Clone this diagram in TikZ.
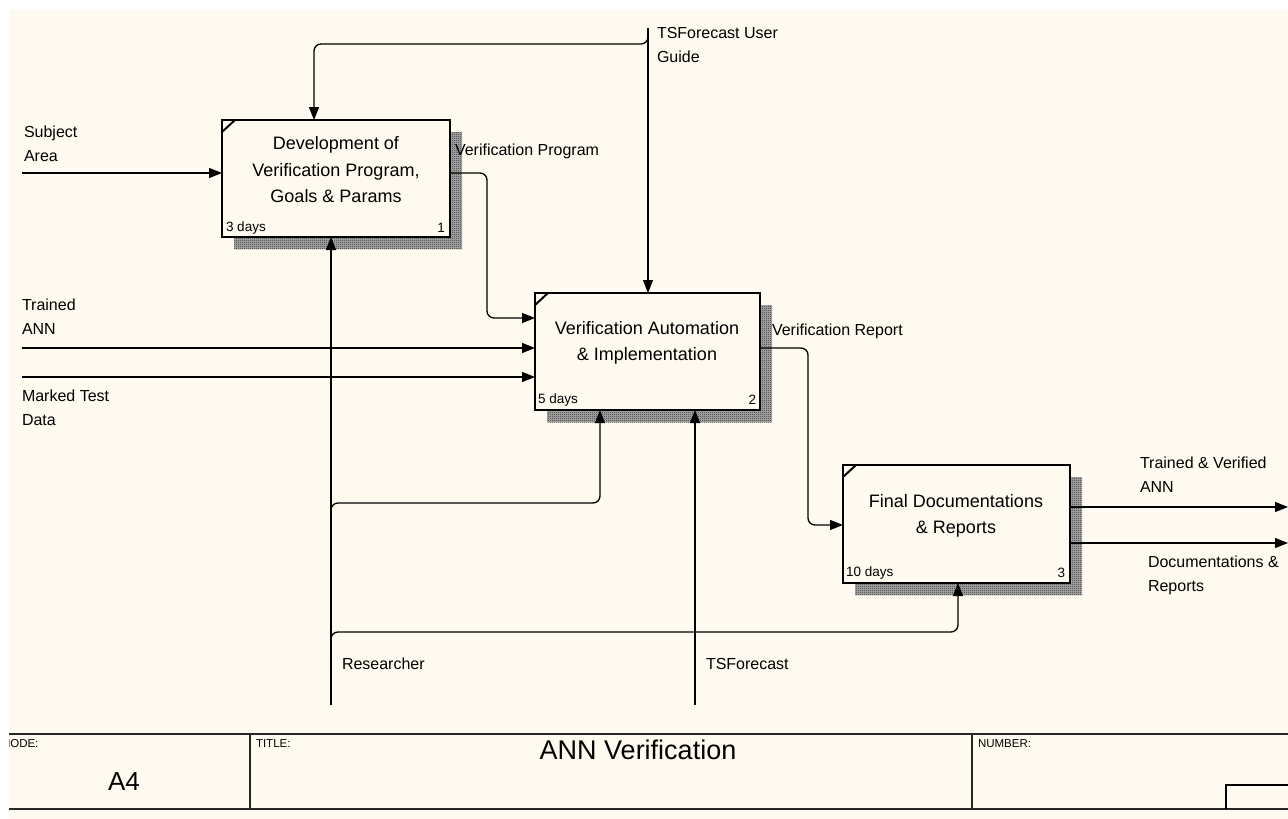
\documentclass[tikz,border=0pt]{standalone}
\usepackage{fontspec}
\setmainfont{Liberation Sans}
\usetikzlibrary{arrows.meta,patterns.meta,calc}
\definecolor{paper}{RGB}{255,250,240}
\pgfdeclarelayer{paperlayer}
\pgfdeclarelayer{shadowlayer}
\pgfsetlayers{paperlayer,shadowlayer,main}
\tikzdeclarepattern{name=idefhatch, type=uncolored,
  bounding box={(0pt,0pt) and (2pt,2pt)}, tile size={(2pt,2pt)},
  code={\fill (0pt,0pt) rectangle (1pt,1pt); \fill (1pt,1pt) rectangle (2pt,2pt);}}
\tikzset{
  boxnode/.style={draw, line width=2.6pt, fill=paper, rectangle},
  boxtext/.style={align=center, font=\fontsize{18pt}{26.5pt}\selectfont},
  lbl/.style={align=left, anchor=north west, font=\fontsize{16pt}{24pt}\selectfont},
  small/.style={font=\fontsize{13.5pt}{15pt}\selectfont},
  tiny/.style={font=\fontsize{11.5pt}{13pt}\selectfont, anchor=west},
  arr/.style={line width=1.3pt, -{Triangle[length=13pt,width=10pt]}},
  rc/.style={rounded corners=7pt},
  shadebase/.style={fill=black!30},
  shade/.style={pattern=idefhatch, pattern color=black},
  frame/.style={line width=1.8pt, draw=black!85}
}
\begin{document}
\begin{tikzpicture}[x=1pt, y=-1pt, every node/.style={inner sep=0pt, outer sep=0pt}]
\useasboundingbox (0,0) rectangle (1288,819);
\begin{pgfonlayer}{paperlayer}
  \fill[white] (0,0) rectangle (1288,819);
  \fill[paper] (9,10) rectangle (1288,819);
\end{pgfonlayer}

% boxes
\node[boxnode, minimum width=228pt, minimum height=117pt] (b1) at (336,178.5) {};
\node[boxnode, minimum width=225pt, minimum height=117pt] (b2) at (647.5,351.5) {};
\node[boxnode, minimum width=227pt, minimum height=118pt] (b3) at (956.5,524) {};

\begin{pgfonlayer}{shadowlayer}
  \foreach \b in {b1,b2,b3}{
    \fill[shadebase] ($(\b.south west)+(12pt,-12pt)$) rectangle ($(\b.north east)+(12pt,-12pt)$);
    \fill[shade] ($(\b.south west)+(12pt,-12pt)$) rectangle ($(\b.north east)+(12pt,-12pt)$);
  }
\end{pgfonlayer}

\foreach \b in {b1,b2,b3}{
  \draw[line width=2pt] ([yshift=-12pt]\b.north west) -- ([xshift=13pt]\b.north west);
}

\node[boxtext] (t1) at (336,170) {Development of\\Verification Program,\\Goals \& Params};
\node[boxtext] (t2) at (647,343) {Verification Automation\\\& Implementation};
\node[boxtext] (t3) at (956,516) {Final Documentations\\\& Reports};

\node[small, anchor=west] (d1) at (226,228) {3 days};
\node[small, anchor=east] (n1) at (445,228) {1};
\node[small, anchor=west] (d2) at (538,400) {5 days};
\node[small, anchor=east] (n2) at (756,400) {2};
\node[small, anchor=west] (d3) at (846,573) {10 days};
\node[small, anchor=east] (n3) at (1065,573) {3};

% connectors
\coordinate (saL) at (22,173);
\draw[arr] (saL) -- (saL -| b1.west);

\coordinate (ugT) at (648,28);
\draw[arr] (ugT) -- (ugT |- b2.north);
\coordinate (ugC) at (314,44);
\draw[arr,rc] (ugT) |- (ugC) -- (ugC |- b1.north);

\coordinate (vpC) at (487,318);
\draw[arr,rc] (b1.east |- saL) -| (vpC) -- (vpC -| b2.west);

\coordinate (taL) at (22,348);
\draw[arr] (taL) -- (taL -| b2.west);
\coordinate (mtL) at (22,377);
\draw[arr] (mtL) -- (mtL -| b2.west);

\coordinate (rsB) at (331,705);
\draw[arr] (rsB) -- (rsB |- b1.south);
\coordinate (rsJ1) at (331,516);
\coordinate (rs1) at (600,503);
\draw[arr,rc] (rsJ1) |- (rs1) -- (rs1 |- b2.south);
\coordinate (rsJ2) at (331,645);
\coordinate (rs2) at (958,632);
\draw[arr,rc] (rsJ2) |- (rs2) -- (rs2 |- b3.south);

\coordinate (tsB) at (695,705);
\draw[arr] (tsB) -- (tsB |- b2.south);

\coordinate (vrC) at (808,525);
\draw[arr,rc] (b2.east |- taL) -| (vrC) -- (vrC -| b3.west);

\coordinate (o1) at (1288,507);
\draw[arr] (o1 -| b3.east) -- (o1);
\coordinate (o2) at (1288,543);
\draw[arr] (o2 -| b3.east) -- (o2);

% arrow labels
\node[lbl] (lsa) at (24,126) {Subject\\Area};
\node[lbl] (lta) at (22,299) {Trained\\ANN};
\node[lbl] (lmt) at (22,390) {Marked Test\\Data};
\node[lbl] (lvp) at (455,144) {Verification Program};
\node[lbl] (lug) at (657,27) {TSForecast User\\Guide};
\node[lbl] (lvr) at (772,324) {Verification Report};
\node[lbl] (ltv) at (1140,457) {Trained \& Verified\\ANN};
\node[lbl] (ldr) at (1148,556) {Documentations \&\\Reports};
\node[lbl] (lrs) at (342,658) {Researcher};
\node[lbl] (lts) at (706,658) {TSForecast};

% frame
\draw[frame] (9,734) -- (1288,734);
\draw[frame] (9,809) -- (1288,809);
\draw[frame] (250,734) -- (250,809);
\draw[frame] (972,734) -- (972,809);
\draw[line width=1.5pt] (1288,785) -- (1226,785) -- (1226,809);
\begin{scope}
  \clip (9,700) rectangle (1288,819);
  \node[tiny] (fnode) at (2,744) {NODE:};
\end{scope}
\node[font=\fontsize{26pt}{30pt}\selectfont] (fa4) at (124,782) {A4};
\node[tiny] (ftitle) at (256,744) {TITLE:};
\node[font=\fontsize{27pt}{30pt}\selectfont] (fname) at (638,750) {ANN Verification};
\node[tiny] (fnum) at (978,744) {NUMBER:};
\end{tikzpicture}
\end{document}
